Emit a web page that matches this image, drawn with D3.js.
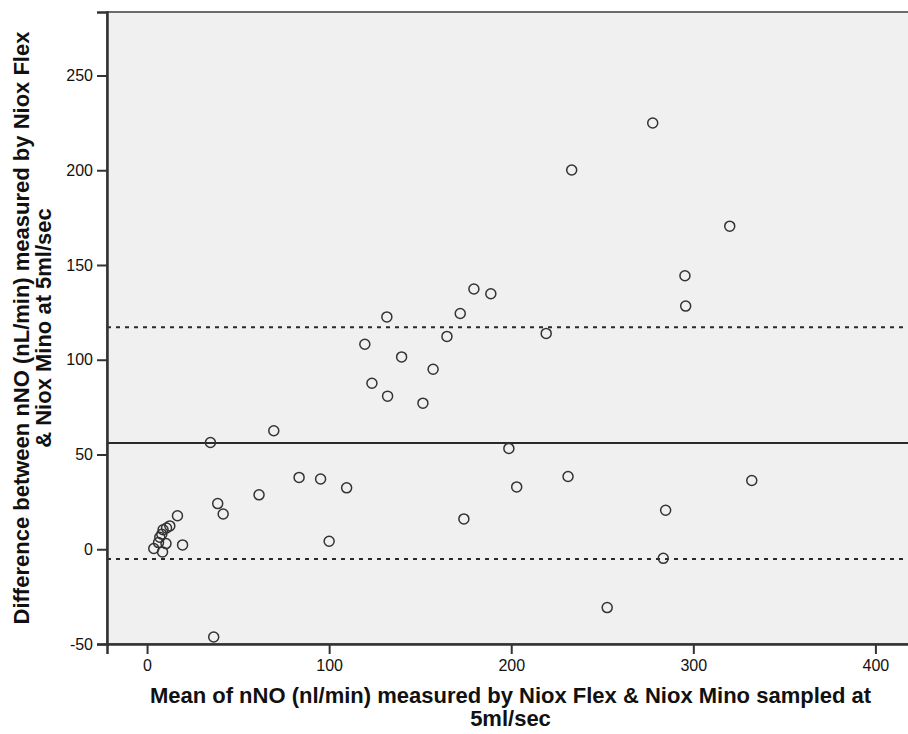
<!DOCTYPE html>
<html>
<head>
<meta charset="utf-8">
<script src="https://cdn.jsdelivr.net/npm/d3@7"></script>
<style>
  body { margin: 0; background: #fff; }
  text { font-family: "Liberation Sans", Arial, sans-serif; }
</style>
</head>
<body>
<div id="vis"></div>
<script>
// Bland-Altman points: mean of the two devices vs. their difference
const meanVals = [16.7, 12.5, 10.7, 8.8, 8.1, 7.0, 6.3, 10.4, 3.7, 8.5, 19.5,
    34.8, 69.6, 83.5, 95.3, 109.6, 61.5, 38.8, 41.8, 36.6, 100.0,
    174.0, 198.7, 203.0, 231.2, 252.7, 283.5, 284.8, 332.1,
    277.7, 320.0, 233.2, 295.4, 295.8,
    179.5, 188.8, 131.7, 172.0, 164.7, 219.2, 119.6, 139.8, 157.1, 123.5, 132.1, 151.5]
const diffVals = [17.7, 12.3, 11.2, 10.3, 7.9, 6.3, 3.5, 3.0, 0.4, -1.4, 2.3,
    56.3, 62.5, 37.9, 37.1, 32.4, 28.7, 24.1, 18.6, -46.3, 4.2,
    16.0, 53.2, 32.9, 38.4, -30.8, -4.8, 20.6, 36.3,
    224.9, 170.5, 200.1, 144.3, 128.3,
    137.3, 134.8, 122.6, 124.4, 112.3, 113.9, 108.2, 101.5, 95.0, 87.6, 80.8, 77.1]

const meanDiff = 56.1
const limitsOfAgreement = [117.2, -5.1]

const xTicks = [0, 100, 200, 300, 400]
const yTicks = [-50, 0, 50, 100, 150, 200, 250]

const xTitle = ["Mean of nNO (nl/min) measured by Niox Flex & Niox Mino sampled at", "5ml/sec"]
const yTitle = ["Difference between nNO (nL/min) measured by Niox Flex", "& Niox Mino at 5ml/sec"]

const width = 908, height = 734
const plot = {left: 107, right: 910, top: 12, bottom: 644}

const svg = d3.select("#vis").append("svg")
    .attr("width", width)
    .attr("height", height)

const x = d3.scaleLinear().domain([-22, 419]).range([plot.left, plot.right])
const y = d3.scaleLinear().domain([-50, 283.5]).range([plot.bottom, plot.top])

// plot background
svg.append("rect")
    .attr("x", plot.left).attr("y", plot.top)
    .attr("width", plot.right - plot.left)
    .attr("height", plot.bottom - plot.top)
    .attr("fill", "#f0f0f0")
    .attr("stroke", "#6b6b6b")
    .attr("stroke-width", 2)

// reference lines
svg.append("line")
    .attr("x1", plot.left).attr("x2", plot.right)
    .attr("y1", y(meanDiff)).attr("y2", y(meanDiff))
    .attr("stroke", "#2a2a2a").attr("stroke-width", 2)

svg.selectAll(".loa")
  .data(limitsOfAgreement)
  .join("line")
    .attr("class", "loa")
    .attr("x1", plot.left).attr("x2", plot.right)
    .attr("y1", d => y(d)).attr("y2", d => y(d))
    .attr("stroke", "#2a2a2a").attr("stroke-width", 2)
    .attr("stroke-dasharray", "4,5")

// points
svg.append("g")
  .selectAll("circle")
  .data(meanVals.map((m, i) => ({m: m, d: diffVals[i]})))
  .join("circle")
    .attr("cx", d => x(d.m))
    .attr("cy", d => y(d.d))
    .attr("r", 5)
    .attr("fill", "none")
    .attr("stroke", "#333")
    .attr("stroke-width", 1.5)

// axes
const xAxis = svg.append("g")
    .attr("transform", `translate(0,${plot.bottom})`)
    .call(d3.axisBottom(x).tickValues(xTicks).tickSize(10).tickPadding(6)
        .tickFormat(d => String(d)))
const yAxis = svg.append("g")
    .attr("transform", `translate(${plot.left},0)`)
    .call(d3.axisLeft(y).tickValues(yTicks).tickSize(10).tickPadding(4)
        .tickFormat(d => String(d)))

for (const ax of [xAxis, yAxis]) {
    ax.select(".domain").attr("stroke", "#333").attr("stroke-width", 2.5)
    ax.selectAll(".tick line").attr("stroke", "#333").attr("stroke-width", 2)
    ax.selectAll(".tick text")
        .attr("fill", "#111")
        .style("font-size", "16px")
        .style("font-family", "'Liberation Sans', Arial, sans-serif")
}

// axis titles
const cx = (plot.left + plot.right) / 2 + 2
svg.append("text")
    .attr("text-anchor", "middle")
    .style("font-size", "22px").style("font-weight", "bold").attr("fill", "#111")
  .selectAll("tspan")
  .data(xTitle)
  .join("tspan")
    .attr("x", cx)
    .attr("y", (d, i) => 703 + i * 23)
    .text(d => d)

const cy = (plot.top + plot.bottom) / 2
svg.append("text")
    .attr("text-anchor", "middle")
    .attr("transform", `translate(0,${cy}) rotate(-90)`)
    .style("font-size", "22px").style("font-weight", "bold").attr("fill", "#111")
  .selectAll("tspan")
  .data(yTitle)
  .join("tspan")
    .attr("x", 0)
    .attr("y", (d, i) => 29 + i * 22)
    .text(d => d)
</script>
</body>
</html>
